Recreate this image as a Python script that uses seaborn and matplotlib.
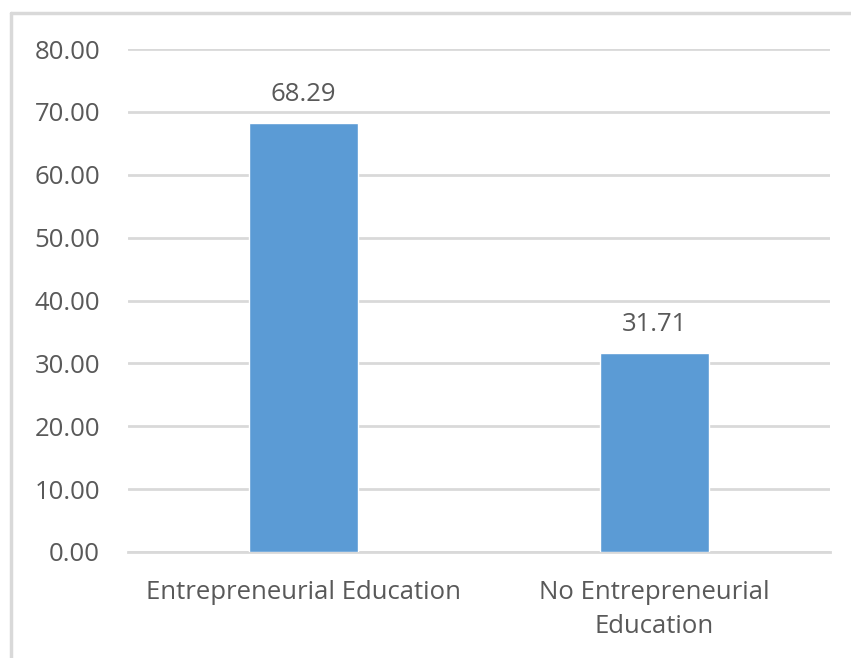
import matplotlib
matplotlib.use("Agg")
import matplotlib.pyplot as plt
import seaborn as sns
import pandas as pd

categories = ["Entrepreneurial Education", "No Entrepreneurial\nEducation"]
values = [68.29, 31.71]
y_ticks = [0, 10, 20, 30, 40, 50, 60, 70, 80]

sns.set_theme(style="white")
plt.rcParams["font.family"] = ["Open Sans", "DejaVu Sans"]

text_color = "#595959"
grid_color = "#d9d9d9"
bar_color = "#5b9bd5"

df = pd.DataFrame({"category": categories, "value": values})

fig = plt.figure(figsize=(8.51, 6.58), dpi=100)
ax = fig.add_axes([0.1504, 0.1611, 0.8249, 0.7644])

sns.barplot(data=df, x="category", y="value", color=bar_color,
            saturation=1, width=0.31, ax=ax, zorder=3)

ax.set_ylim(0, 80)
ax.set_xlim(-0.5, 1.5)
ax.set_yticks(y_ticks)
ax.set_yticklabels([f"{v:.2f}" for v in y_ticks])
ax.yaxis.grid(True, color=grid_color, linewidth=2, zorder=0)
ax.set_axisbelow(True)
ax.set_xlabel("")
ax.set_ylabel("")
for s in ["top", "right", "left"]:
    ax.spines[s].set_visible(False)
ax.spines["bottom"].set_color(grid_color)
ax.spines["bottom"].set_linewidth(2)
ax.tick_params(axis="both", length=0, labelsize=18.5, colors=text_color)
ax.tick_params(axis="y", pad=20)
ax.tick_params(axis="x", pad=20)
for lbl in ax.get_xticklabels():
    lbl.set_linespacing(1.5)

for container in ax.containers:
    ax.bar_label(container, labels=[f"{v:.2f}" for v in values],
                 padding=11, fontsize=18.5, color=text_color)

# outer chart frame
fig.add_artist(plt.Line2D([0.0129, 0.0129], [0.0, 0.981], transform=fig.transFigure,
                          color=grid_color, linewidth=2.5))
fig.add_artist(plt.Line2D([0.0129, 1.0], [0.981, 0.981], transform=fig.transFigure,
                          color=grid_color, linewidth=2.5))

fig.savefig("out.png", dpi=100)
